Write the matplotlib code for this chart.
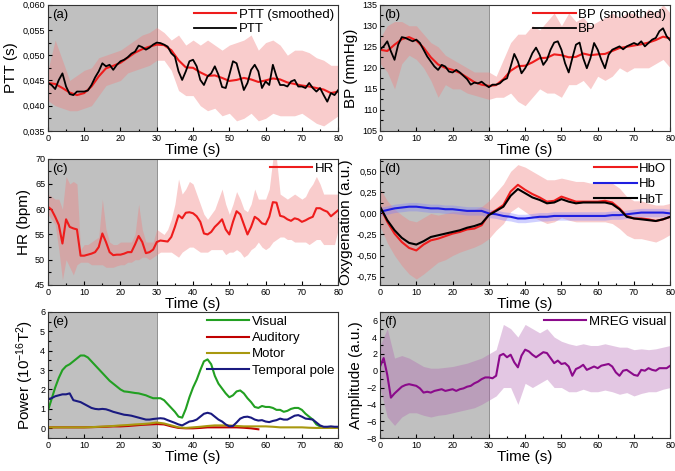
import numpy as np
import matplotlib
matplotlib.use('Agg')
import matplotlib.pyplot as plt
from matplotlib.ticker import FuncFormatter, MultipleLocator, AutoMinorLocator

plt.rcParams['font.family'] = ['Liberation Sans', 'DejaVu Sans']
plt.rcParams['mathtext.default'] = 'regular'

# ---- data ----
t1 = np.arange(0, 81)        # 1 s grid
t2 = np.arange(0, 81, 2)     # 2 s grid

ptt = [0.0445,0.0441,0.0433,0.0451,0.0464,0.0438,0.0423,0.0421,0.0428,0.0428,
       0.0428,0.0430,0.0441,0.0456,0.0468,0.0484,0.0478,0.0481,0.0471,0.0481,
       0.0488,0.0491,0.0496,0.0503,0.0507,0.0519,0.0516,0.0511,0.0515,0.0521,
       0.0525,0.0524,0.0521,0.0517,0.0504,0.0497,0.0468,0.0451,0.0468,0.0488,
       0.0491,0.0478,0.0451,0.0441,0.0458,0.0464,0.0478,0.0461,0.0437,0.0435,
       0.0461,0.0488,0.0484,0.0458,0.0431,0.0445,0.0471,0.0481,0.0468,0.0435,
       0.0448,0.0441,0.0481,0.0458,0.0441,0.0441,0.0438,0.0448,0.0451,0.0438,
       0.0438,0.0435,0.0445,0.0435,0.0428,0.0435,0.0421,0.0408,0.0425,0.0421,
       0.0431]
ptt_smooth = [0.0445,0.0443,0.0435,0.0426,0.0421,0.0425,0.0438,0.0458,0.0474,0.0479,
              0.0485,0.0495,0.0505,0.0512,0.0517,0.0521,0.0520,0.0510,0.0490,0.0476,
              0.0475,0.0466,0.0459,0.0460,0.0455,0.0449,0.0451,0.0455,0.0452,0.0447,
              0.0450,0.0454,0.0452,0.0446,0.0443,0.0440,0.0438,0.0435,0.0432,0.0425,
              0.0428]
ptt_up = [0.047,0.053,0.049,0.045,0.046,0.047,0.0475,0.0495,0.050,0.0505,
          0.051,0.052,0.053,0.054,0.0545,0.0555,0.0545,0.053,0.054,0.052,
          0.053,0.052,0.053,0.052,0.051,0.052,0.0525,0.053,0.054,0.051,
          0.0525,0.053,0.052,0.050,0.051,0.051,0.0505,0.0495,0.049,0.048,
          0.048]
ptt_lo = [0.041,0.040,0.0395,0.039,0.039,0.0395,0.040,0.042,0.044,0.0445,
          0.045,0.0465,0.047,0.0475,0.048,0.049,0.049,0.047,0.043,0.042,
          0.042,0.040,0.039,0.0395,0.038,0.0385,0.037,0.0375,0.0385,0.037,
          0.0375,0.0385,0.038,0.038,0.038,0.0385,0.0375,0.0365,0.036,0.037,
          0.038]

bp = [124.4,125.1,126.3,123.9,121.9,125.5,127.3,127.1,126.7,126.3,
      126.7,125.9,124.3,122.7,121.5,120.3,119.5,120.7,120.3,119.1,
      118.9,119.5,118.9,118.1,117.3,116.0,116.5,116.3,116.7,116.0,
      115.4,116.0,116.0,116.3,117.1,117.5,120.3,123.3,121.5,118.7,
      119.9,121.5,123.5,124.8,123.1,120.7,121.9,124.3,126.0,126.3,
      124.3,121.1,118.9,122.3,125.5,126.0,122.3,119.9,122.3,125.9,
      124.3,121.9,119.9,123.1,124.3,124.7,125.1,124.4,125.1,125.5,
      125.9,125.5,126.3,125.1,125.9,126.7,127.1,128.7,129.4,127.5,
      126.5]
bp_smooth = [124.3,124.0,125.5,126.8,127.3,126.5,124.8,122.5,120.8,120.0,
             119.5,118.8,117.7,116.6,116.0,115.7,115.9,117.3,119.3,120.4,
             120.5,121.3,122.3,122.4,123.2,123.0,122.5,122.6,123.4,123.0,
             123.2,123.3,124.0,124.7,125.0,125.3,125.6,126.0,126.6,127.4,
             127.0]
bp_up = [127,130,131,131,130,130,128,126,125,123,
         122,121,120,119,119,119,118,122,126,128,
         128,130,129,131,133,130,133,131,132,130,
         131,132,133,132,133,133,132,134,133,135,
         133]
bp_lo = [121,119,115,121,123,122,120,117,113,116,
         115,115,114,113.5,113,112.5,113,113,114,112,
         111,113,115,114,114,113,116,116,117,115,
         118,117,118,120,119,120,120,120,121,122,
         120]

hr = [60.5,59.9,58.5,56.9,53.2,58.0,56.5,56.2,56.0,50.8,
      50.8,51.0,51.2,51.5,52.5,55.2,53.5,51.5,50.9,51.0,
      51.0,51.2,51.5,51.5,53.0,54.7,53.5,51.3,51.5,52.0,
      53.5,53.8,53.7,53.6,54.5,56.5,58.8,58.2,59.3,59.4,
      59.2,58.6,57.5,55.2,55.0,55.5,56.5,57.2,58.0,56.0,
      55.0,57.5,59.6,59.0,57.0,55.0,56.5,58.5,58.0,57.2,
      57.0,58.5,61.4,61.3,58.7,58.5,58.0,57.7,58.2,58.0,
      57.5,57.8,58.2,58.5,60.2,60.2,59.8,59.5,58.6,59.2,
      59.8]
hr_up = [63,62.5,62,62,60,66.5,65,65.5,65,52,
         53,53,53.5,54,54.5,62,56,53.5,53,53,
         53.5,53.5,53.5,53.5,55,61,56,53.5,53.5,53.5,
         56,55.5,55,56,58,61,66,63,64,65.5,
         65,63,61,59,58,59,60,62,64,61,
         59,61,63.5,62,60,59.5,61,64,62,62,
         62,64,70,70,63,62.5,62,62.5,63,62.5,
         62,62.5,64,65,66.5,65,63,63,63,63,
         63]
hr_lo = [59,58,57,52,46,50,48.5,47,49,49.5,
         49.5,49.5,49,49,49,49,48.5,48.5,48.5,48.8,
         49,49,49.5,49.5,50,50,50.5,50.5,50,50.5,
         51,51.5,51.5,51.5,51.5,51,50.5,51.5,52,52.5,
         52.5,52,51.5,51.5,51.5,52,52,52,52,51,
         51.5,51.5,52,51.5,50.5,51,52,52.5,53.5,52.5,
         52,52.5,53.5,54,54.5,54.5,54,54,53.5,53.5,
         53.5,53.5,53,53.5,54,54,53,53,53,53,
         56]

hbo = [0.08,-0.10,-0.24,-0.34,-0.41,-0.44,-0.37,-0.32,-0.30,-0.27,
       -0.24,-0.22,-0.19,-0.18,-0.14,-0.01,0.04,0.10,0.26,0.34,
       0.28,0.23,0.19,0.14,0.15,0.20,0.17,0.14,0.14,0.14,
       0.14,0.15,0.13,0.06,-0.03,-0.06,-0.06,-0.07,-0.09,-0.07,
       -0.04]
hb = [0.02,0.04,0.06,0.07,0.08,0.08,0.07,0.06,0.06,0.05,
      0.05,0.04,0.03,0.03,0.03,0.0,-0.01,-0.03,-0.04,-0.06,
      -0.06,-0.05,-0.04,-0.04,-0.03,-0.03,-0.03,-0.03,-0.03,-0.03,
      -0.03,-0.03,-0.02,-0.02,-0.01,0.0,0.01,0.01,0.01,0.01,
      0.0]
hbt = [0.08,-0.08,-0.20,-0.29,-0.35,-0.37,-0.33,-0.28,-0.26,-0.24,
       -0.22,-0.20,-0.17,-0.15,-0.12,-0.02,0.03,0.08,0.21,0.29,
       0.24,0.19,0.16,0.12,0.13,0.17,0.14,0.12,0.13,0.13,
       0.13,0.13,0.11,0.05,-0.04,-0.06,-0.07,-0.08,-0.09,-0.07,
       -0.04]
hbo_up = [0.30,0.15,0.05,-0.02,-0.08,-0.10,-0.05,0.0,-0.02,0.0,
          0.02,0.02,0.05,0.05,0.08,0.15,0.25,0.35,0.50,0.58,
          0.55,0.50,0.45,0.40,0.40,0.42,0.40,0.38,0.38,0.36,
          0.36,0.38,0.36,0.30,0.20,0.15,0.15,0.12,0.10,0.10,
          0.12]
hbo_lo = [-0.15,-0.35,-0.50,-0.62,-0.72,-0.78,-0.72,-0.65,-0.58,-0.55,
          -0.50,-0.46,-0.43,-0.40,-0.36,-0.30,-0.20,-0.12,0.02,0.08,
          0.02,-0.04,-0.08,-0.12,-0.10,-0.05,-0.08,-0.10,-0.10,-0.10,
          -0.10,-0.10,-0.12,-0.18,-0.26,-0.30,-0.30,-0.32,-0.34,-0.30,
          -0.25]
hb_err = 0.05

visual = [0.9,1.5,2.1,2.6,3.0,3.2,3.3,3.45,3.6,3.75,
          3.75,3.65,3.45,3.25,3.05,2.85,2.65,2.45,2.3,2.15,
          2.0,1.9,1.88,1.85,1.82,1.8,1.75,1.7,1.62,1.55,
          1.55,1.55,1.45,1.25,1.05,0.85,0.6,0.55,1.0,1.6,
          2.1,2.5,3.0,3.45,3.55,3.3,2.7,2.3,2.05,1.8,
          1.6,1.7,1.9,1.95,1.8,1.55,1.35,1.1,1.05,1.15,
          1.1,1.1,1.05,0.95,0.95,0.85,0.9,1.0,1.05,1.05,
          0.95,0.75,0.6,0.45,0.2,0.1,0.05,0.05,0.05,0.05,
          0.05]
temporal = [1.5,1.55,1.65,1.7,1.75,1.75,1.8,1.45,1.4,1.35,
            1.25,1.15,1.05,1.0,0.98,1.0,0.98,0.92,0.85,0.8,
            0.75,0.7,0.68,0.65,0.6,0.55,0.5,0.45,0.45,0.48,
            0.5,0.52,0.5,0.42,0.35,0.28,0.2,0.15,0.25,0.35,
            0.38,0.45,0.6,0.75,0.8,0.75,0.6,0.45,0.35,0.2,
            0.1,0.12,0.3,0.5,0.58,0.6,0.55,0.45,0.4,0.42,
            0.35,0.32,0.38,0.42,0.5,0.45,0.45,0.55,0.65,0.68,
            0.6,0.5,0.48,0.45,0.3,0.15,0.08,0.08,0.1,0.08,
            0.08]
t_aud = np.arange(0, 59, 2)
auditory = [0.05,0.05,0.05,0.05,0.05,0.05,0.06,0.07,0.08,0.1,
            0.1,0.12,0.15,0.18,0.2,0.22,0.2,0.1,0.02,0.0,
            0.0,0.02,0.05,0.05,0.05,0.05,0.05,0.03,0.0,-0.05]
motor = [0.05,0.05,0.05,0.05,0.05,0.05,0.06,0.08,0.1,0.12,
         0.15,0.17,0.2,0.22,0.25,0.3,0.25,0.15,0.05,0.02,
         0.05,0.08,0.12,0.15,0.15,0.15,0.12,0.1,0.1,0.1,
         0.1,0.08,0.05,0.05,0.05,0.05,0.03,0.02,0.02,0.02,
         0.02]

mreg = [0.5,1.5,-0.5,-3.2,-2.7,-2.3,-1.9,-1.7,-1.6,-1.7,
        -1.8,-2.1,-2.6,-2.5,-2.6,-2.4,-2.3,-2.2,-2.4,-2.3,
        -2.2,-2.4,-2.2,-2.1,-1.9,-1.8,-1.5,-1.3,-1.0,-0.8,
        -0.8,-0.9,-0.6,1.8,2.0,1.6,1.9,1.0,0.4,1.8,
        2.5,2.3,1.9,1.6,1.9,2.2,2.1,1.5,0.9,1.2,
        0.8,0.9,0.5,-0.6,0.2,0.4,0.7,0.1,0.3,0.5,
        0.3,0.6,0.7,0.8,0.5,-0.2,-0.6,0.0,0.1,-0.2,
        -0.5,-0.6,0.1,0.0,0.3,0.1,0.0,0.3,0.3,0.3,
        0.6]
mreg_up = [3.0,5.0,1.5,1.8,1.5,1.0,0.5,0.3,0.3,0.4,
           0.5,0.7,0.9,1.2,1.5,2.0,2.5,5.5,5.0,4.0,
           5.5,5.0,4.5,5.0,4.0,3.5,3.2,3.0,3.2,3.0,
           3.0,3.2,3.0,2.8,2.8,2.5,2.6,2.5,2.6,2.8,
           3.0]
mreg_lo = [-2.0,-5.5,-6.5,-5.5,-5.0,-5.0,-5.3,-5.5,-5.3,-5.2,
           -5.0,-4.8,-4.6,-4.4,-4.0,-3.5,-3.0,-2.0,-2.0,-4.0,
           -1.5,-2.0,-1.5,-1.0,-2.0,-2.0,-2.5,-2.5,-2.2,-2.5,
           -2.5,-2.3,-2.5,-2.8,-2.6,-3.0,-2.7,-2.5,-2.5,-2.2,
           -2.0]

# ---- figure ----
RED = '#ee1c1c'
PINK = '#f08080'
fig = plt.figure(figsize=(6.75, 4.71), dpi=100)
lefts = [0.071, 0.563]
bottoms = [0.722, 0.395, 0.070]
W, H = 0.43, 0.268
axs = []
for b in bottoms:
    for l in lefts:
        axs.append(fig.add_axes([l, b, W, H]))

def comma(fmt):
    return FuncFormatter(lambda v, p: (fmt % v).replace('.', ','))

def base(ax, tag, ylabel, ylim):
    ax.axvspan(0, 30, color='#c0c0c0', zorder=0, lw=0)
    ax.axvline(30, color='#808080', lw=0.6, zorder=0.5)
    ax.set_xlim(0, 80)
    ax.set_ylim(*ylim)
    ax.xaxis.set_major_locator(MultipleLocator(10))
    ax.xaxis.set_minor_locator(AutoMinorLocator(2))
    ax.yaxis.set_minor_locator(AutoMinorLocator(2))
    ax.tick_params(which='both', labelsize=6.5, direction='in', pad=2,
                   width=0.8)
    ax.tick_params(which='major', length=3)
    ax.tick_params(which='minor', length=1.8)
    ax.set_xlabel('Time (s)', fontsize=11, labelpad=0)
    ax.set_ylabel(ylabel, fontsize=11, labelpad=3)
    ax.text(0.015, 0.965, tag, transform=ax.transAxes, fontsize=9.5, va='top')
    for s in ax.spines.values():
        s.set_color('#333333')

def leg(ax, sp=0.15):
    ax.legend(loc='upper right', frameon=False, fontsize=9.5, handlelength=3.2,
              borderaxespad=0.1, labelspacing=sp, handletextpad=0.2,
              borderpad=0.2)

# (a)
ax = axs[0]
base(ax, '(a)', 'PTT (s)', (0.035, 0.060))
ax.yaxis.set_major_locator(MultipleLocator(0.005))
ax.yaxis.set_major_formatter(comma('%.3f'))
ax.fill_between(t2, ptt_lo, ptt_up, color=PINK, alpha=0.4, lw=0)
ax.plot(t2, ptt_smooth, color=RED, lw=1.5, label='PTT (smoothed)')
ax.plot(t1, ptt, color='black', lw=1.3, label='PTT')
leg(ax)

# (b)
ax = axs[1]
base(ax, '(b)', 'BP (mmHg)', (105, 135))
ax.yaxis.set_major_locator(MultipleLocator(5))
ax.fill_between(t2, bp_lo, bp_up, color=PINK, alpha=0.4, lw=0)
ax.plot(t2, bp_smooth, color=RED, lw=1.5, label='BP (smoothed)')
ax.plot(t1, bp, color='black', lw=1.3, label='BP')
leg(ax)

# (c)
ax = axs[2]
base(ax, '(c)', 'HR (bpm)', (45, 70))
ax.yaxis.set_major_locator(MultipleLocator(5))
ax.fill_between(t1, hr_lo, hr_up, color=PINK, alpha=0.4, lw=0)
ax.plot(t1, hr, color=RED, lw=1.5, label='HR')
leg(ax)

# (d)
ax = axs[3]
base(ax, '(d)', 'Oxygenation (a.u.)', (-0.85, 0.65))
ax.yaxis.set_major_locator(MultipleLocator(0.25))
ax.yaxis.set_major_formatter(comma('%.2f'))
ax.fill_between(t2, hbo_lo, hbo_up, color=PINK, alpha=0.4, lw=0)
ax.fill_between(t2, np.array(hb) - hb_err, np.array(hb) + hb_err,
                color='#7a7aff', alpha=0.35, lw=0)
ax.plot(t2, hbo, color=RED, lw=1.5, label='HbO')
ax.plot(t2, hb, color='#1f1fe0', lw=1.5, label='Hb')
ax.plot(t2, hbt, color='black', lw=1.5, label='HbT')
leg(ax, 0.25)

# (e)
ax = axs[4]
base(ax, '(e)', r'Power (10$^{-16}$T$^{2}$)', (-0.5, 6))
ax.yaxis.set_major_locator(MultipleLocator(1))
ax.plot(t1, visual, color='#22a022', lw=1.5, label='Visual')
ax.plot(t_aud, auditory, color='#c00000', lw=1.5, label='Auditory')
ax.plot(t2, motor, color='#a8980f', lw=1.5, label='Motor')
ax.plot(t1, temporal, color='#1a1a80', lw=1.5, label='Temporal pole')
leg(ax, 0.3)

# (f)
ax = axs[5]
base(ax, '(f)', 'Amplitude (a.u.)', (-8, 7))
ax.yaxis.set_major_locator(MultipleLocator(2))
ax.fill_between(t2, mreg_lo, mreg_up, color='#b060b0', alpha=0.35, lw=0)
ax.plot(t1, mreg, color='#8b0a8b', lw=1.5, label='MREG visual')
leg(ax)

fig.savefig('out.png', dpi=100)
